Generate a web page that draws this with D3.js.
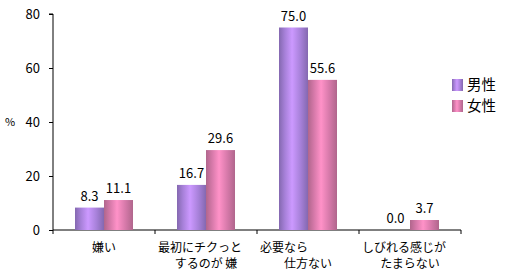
<html>
<head>
<meta charset="utf-8">
<script src="https://d3js.org/d3.v7.min.js"></script>
<style>
body { margin: 0; background: #fff; }
text { font-family: "Noto Sans CJK JP", "DejaVu Sans", sans-serif; white-space: pre; }
</style>
</head>
<body>
<div id="chart"></div>
<script>
// data
var categories = [
  ["嫌い"],
  ["最初にチクっと\u3000", "するのが 嫌"],
  ["必要なら\u3000\u3000\u3000\u3000", "仕方ない"],
  ["しびれる感じが\u3000", "たまらない"]
]
var seriesNames = ["男性", "女性"]
var male = [8.3, 16.7, 75.0, 0.0]
var female = [11.1, 29.6, 55.6, 3.7]
var yTicks = [0, 20, 40, 60, 80]

const w = 507;
const h = 277;

const svg = d3.select("#chart")
  .append("svg")
  .attr("width", w)
  .attr("height", h);

// cylinder-ish gradients
const defs = svg.append("defs");
function grad(id, edge, mid, light){
  const g = defs.append("linearGradient").attr("id", id)
    .attr("x1", "0%").attr("x2", "100%").attr("y1", "0%").attr("y2", "0%");
  g.append("stop").attr("offset", "0%").attr("stop-color", edge);
  g.append("stop").attr("offset", "20%").attr("stop-color", mid);
  g.append("stop").attr("offset", "45%").attr("stop-color", light);
  g.append("stop").attr("offset", "75%").attr("stop-color", mid);
  g.append("stop").attr("offset", "100%").attr("stop-color", edge);
}
grad("gMale", "#8468b0", "#a680d8", "#cc99ff");
grad("gFemale", "#b0668c", "#d478a8", "#ff92c8");
const fills = ["url(#gMale)", "url(#gFemale)"];

const xscale = d3.scaleBand()
  .domain(d3.range(categories.length))
  .range([53, 461]);
const inner = d3.scaleBand()
  .domain([0, 1])
  .range([22, 80]);
const yscale = d3.scaleLinear()
  .domain([0, 80])
  .range([230, 14]);

// y axis
const Yaxis = d3.axisLeft(yscale).tickValues(yTicks).tickSize(4).tickPadding(9);
const gy = svg.append("g")
  .attr("transform", "translate(53,0)")
  .call(Yaxis);
gy.select(".domain").attr("d", "M-4,14H0V230").attr("stroke", "#000");
gy.selectAll("text").attr("font-size", 13).attr("fill", "#000")
  .attr("font-family", "'DejaVu Sans', sans-serif");

svg.append("text")
  .attr("x", 10).attr("y", 122)
  .attr("dy", "0.35em")
  .attr("text-anchor", "middle")
  .attr("font-size", 11)
  .text("%");

// x axis
const gx = svg.append("g").attr("transform", "translate(0,230)");
gx.append("line").attr("x1", 53).attr("x2", 461).attr("stroke", "#000");
gx.selectAll("line.tick")
  .data(d3.range(categories.length + 1))
  .enter().append("line")
  .attr("class", "tick")
  .attr("x1", (d) => 53 + d * xscale.step())
  .attr("x2", (d) => 53 + d * xscale.step())
  .attr("y1", 0).attr("y2", 4)
  .attr("stroke", "#000");

categories.forEach(function(lines, i){
  const t = svg.append("text")
    .attr("text-anchor", "middle")
    .attr("font-size", 12);
  lines.forEach(function(l, j){
    t.append("tspan")
      .attr("x", xscale(i) + xscale.bandwidth() / 2)
      .attr("y", 252 + j * 16)
      .text(l);
  });
});

// bars
const series = [male, female];
series.forEach(function(vals, s){
  svg.selectAll(".bar" + s)
    .data(vals)
    .enter()
    .append("rect")
    .attr("x", (d, i) => xscale(i) + inner(s))
    .attr("y", (d) => yscale(d))
    .attr("width", inner.bandwidth())
    .attr("height", (d) => 230 - yscale(d))
    .attr("fill", fills[s]);
  svg.selectAll(".lab" + s)
    .data(vals)
    .enter()
    .append("text")
    .attr("x", (d, i) => xscale(i) + inner(s) + inner.bandwidth() / 2)
    .attr("y", (d) => yscale(d) - 7)
    .attr("text-anchor", "middle")
    .attr("font-size", 13)
    .attr("font-family", "'DejaVu Sans', sans-serif")
    .text((d) => d.toFixed(1));
});

// legend
const legend = svg.selectAll(".leg")
  .data(seriesNames)
  .enter().append("g")
  .attr("transform", (d, i) => `translate(452, ${79 + i * 21})`);
legend.append("rect")
  .attr("width", 11).attr("height", 12)
  .attr("fill", (d, i) => fills[i]);
legend.append("text")
  .attr("x", 15).attr("y", 6)
  .attr("dy", "0.35em")
  .attr("font-size", 14.5)
  .text((d) => d);
</script>
</body>
</html>
